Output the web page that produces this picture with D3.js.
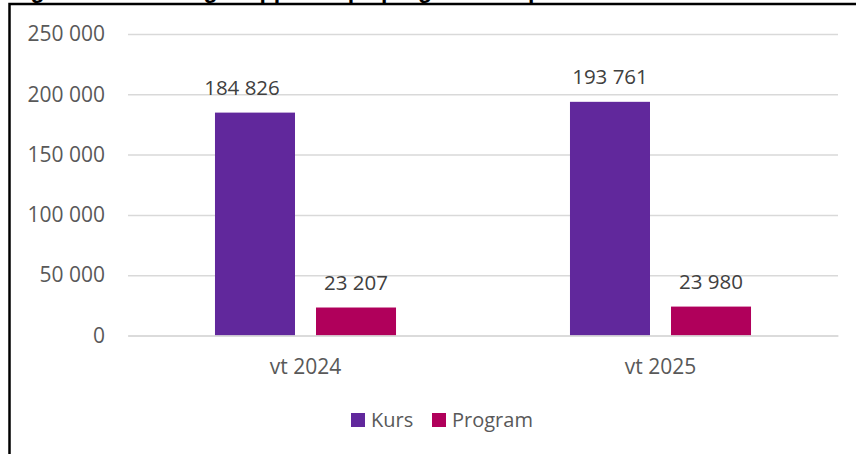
<!DOCTYPE html>
<html>
<head>
<meta charset="utf-8">
<script src="https://cdn.jsdelivr.net/npm/d3@7"></script>
<style>
  html, body { margin: 0; padding: 0; background: #fff; }
  text { font-family: "Open Sans", sans-serif; }
</style>
</head>
<body>
<div id="chart"></div>
<script>
// data
var categories = ["vt 2024", "vt 2025"];
var seriesNames = ["Kurs", "Program"];
var kursValues = [184826, 193761];
var programValues = [23207, 23980];
var yTicks = [0, 50000, 100000, 150000, 200000, 250000];
var titleText = "Figur 5. Anmälningar uppdelat på program och per termin";

var width = 856, height = 454;
var colors = { "Kurs": "#61289c", "Program": "#b0005b" };

var se = d3.formatLocale({ decimal: ",", thousands: " ", grouping: [3], currency: ["", " kr"] });
var fmt = se.format(",d");

var rows = categories.map(function (c, i) {
    return { cat: c, values: [
        { key: "Kurs", value: kursValues[i] },
        { key: "Program", value: programValues[i] }
    ] };
});

var svg = d3.select("#chart")
    .append("svg")
    .attr("width", width)
    .attr("height", height);

svg.append("rect")
    .attr("width", width)
    .attr("height", height)
    .attr("fill", "#fff");

// title of the figure, mostly cropped off above the frame
svg.append("text")
    .attr("x", 10)
    .attr("y", -2)
    .style("font-family", "Liberation Sans, Arial, sans-serif")
    .style("font-weight", "bold")
    .style("font-size", "23px")
    .attr("fill", "#000")
    .text(titleText);

// frame (only left + top edges show in the crop)
svg.append("path")
    .attr("d", "M9.5," + height + "V4H" + width)
    .attr("fill", "none")
    .attr("stroke", "#000")
    .attr("stroke-width", 2.5);

var plotLeft = 128, plotRight = 838;

var y = d3.scaleLinear()
    .domain([0, 250000])
    .range([335.5, 34]);

var x0 = d3.scaleBand()
    .domain(categories)
    .range([plotLeft, plotRight])
    .padding(0);

var x1 = d3.scaleBand()
    .domain(seriesNames)
    .range([0, x0.bandwidth()])
    .paddingInner(0.208)
    .paddingOuter(0.861);

// gridlines + y labels
var yAxis = svg.append("g")
    .attr("transform", "translate(" + plotLeft + ",0)")
    .call(d3.axisLeft(y)
        .tickValues(yTicks)
        .tickFormat(fmt)
        .tickSize(-(plotRight - plotLeft))
        .tickPadding(23));

yAxis.select(".domain").remove();
yAxis.selectAll(".tick line")
    .attr("stroke", "#d9d9d9")
    .attr("stroke-width", 1.5);
yAxis.selectAll(".tick text")
    .style("font-family", "Open Sans")
    .style("font-size", "21px")
    .attr("fill", "#595959");

// bars
var group = svg.selectAll("g.cat")
    .data(rows)
    .enter().append("g")
    .attr("class", "cat")
    .attr("transform", function (d) { return "translate(" + x0(d.cat) + ",0)"; });

group.selectAll("rect")
    .data(function (d) { return d.values; })
    .enter().append("rect")
    .attr("x", function (d) { return x1(d.key); })
    .attr("y", function (d) { return y(d.value); })
    .attr("width", x1.bandwidth())
    .attr("height", function (d) { return y(0) - y(d.value); })
    .attr("fill", function (d) { return colors[d.key]; });

// value labels (first one was dragged a bit left in the original)
group.selectAll("text.val")
    .data(function (d, i) {
        return d.values.map(function (v, j) {
            return { key: v.key, value: v.value, nudge: (i === 0 && j === 0) ? -13 : 0 };
        });
    })
    .enter().append("text")
    .attr("class", "val")
    .attr("x", function (d) { return x1(d.key) + x1.bandwidth() / 2 + d.nudge; })
    .attr("y", function (d) { return y(d.value) - 18; })
    .attr("text-anchor", "middle")
    .style("font-size", "20.5px")
    .attr("fill", "#404040")
    .text(function (d) { return fmt(d.value); });

// category axis
var xAxis = svg.append("g")
    .attr("transform", "translate(0," + y(0) + ")")
    .call(d3.axisBottom(x0).tickSize(0).tickPadding(23.5));

xAxis.select(".domain")
    .attr("stroke", "#d9d9d9")
    .attr("stroke-width", 1.5);
xAxis.selectAll(".tick text")
    .style("font-family", "Open Sans")
    .style("font-size", "21px")
    .attr("fill", "#595959");

// legend
var legendX = [351, 432];
var legend = svg.selectAll("g.legend")
    .data(seriesNames)
    .enter().append("g")
    .attr("class", "legend")
    .attr("transform", function (d, i) { return "translate(" + legendX[i] + ",413)"; });

legend.append("rect")
    .attr("width", 14)
    .attr("height", 14)
    .attr("fill", function (d) { return colors[d]; });

legend.append("text")
    .attr("x", 20)
    .attr("y", 14)
    .style("font-size", "20px")
    .attr("fill", "#595959")
    .text(function (d) { return d; });
</script>
</body>
</html>
